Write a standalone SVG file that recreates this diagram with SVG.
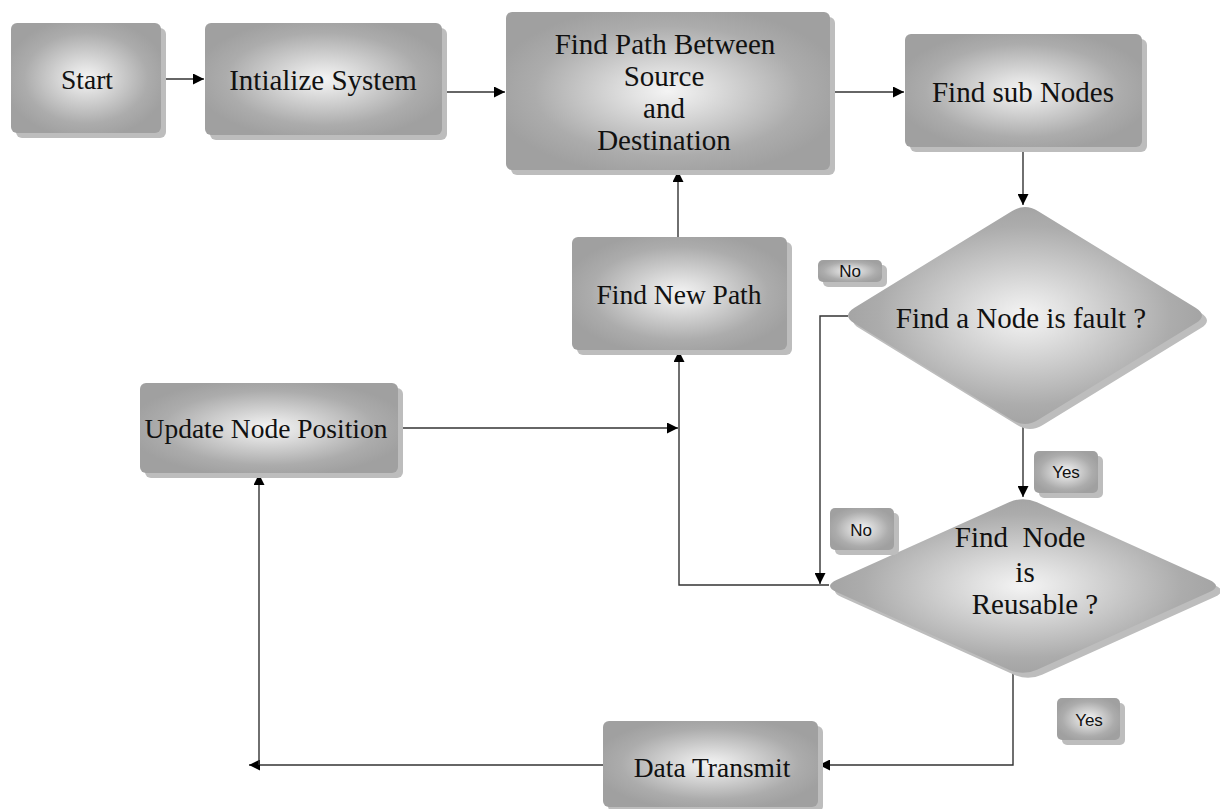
<svg xmlns="http://www.w3.org/2000/svg" width="1220" height="809" viewBox="0 0 1220 809">
<defs>
<radialGradient id="g" cx="0.5" cy="0.5" r="0.55">
<stop offset="0" stop-color="#f4f4f4"/>
<stop offset="0.2" stop-color="#e2e2e2"/>
<stop offset="0.75" stop-color="#acacac"/>
<stop offset="1" stop-color="#a0a0a0"/>
</radialGradient>
<marker id="ah" viewBox="0 0 10 10" refX="10" refY="5" markerWidth="12" markerHeight="11" markerUnits="userSpaceOnUse" orient="auto">
<path d="M0,0 L10,5 L0,10 z" fill="#000"/>
</marker>
</defs>
<style>
.sh{fill:#bdbdbd}
.bx{fill:url(#g)}
.t{font-family:"Liberation Serif","Times New Roman",serif;font-size:27.5px;fill:#111;text-anchor:middle;dominant-baseline:central}
.b{font-size:29px}
.lt{font-family:"Liberation Sans",Arial,sans-serif;font-size:17px;fill:#111;text-anchor:middle;dominant-baseline:central}
.c{fill:none;stroke:#333;stroke-width:1.4}
.a{marker-end:url(#ah)}
</style>

<g id="connectors">
<path class="c a" d="M163,79 L204,79"/>
<path class="c a" d="M443,92 L505,92"/>
<path class="c a" d="M832,92 L904,92"/>
<path class="c a" d="M1023,148 L1023,205"/>
<path class="c a" d="M1023,425 L1023,497"/>
<path class="c a" d="M848,316 L820,316 L820,584"/>
<path class="c a" d="M829,585 L679,585 L679,351"/>
<path class="c a" d="M400,428 L678,428"/>
<path class="c a" d="M678,237 L678,171"/>
<path class="c a" d="M1013,673 L1013,765 L819,765"/>
<path class="c a" d="M603,765 L249,765"/>
<path class="c a" d="M259,765 L259,474"/>
</g>

<g id="start">
<rect class="sh" x="16" y="28" width="150" height="110" rx="6"/>
<rect class="bx" x="11" y="23" width="150" height="110" rx="6"/>
<text class="t" x="87" y="79">Start</text>
</g>

<g id="init">
<rect class="sh" x="210" y="28" width="237" height="112" rx="6"/>
<rect class="bx" x="205" y="23" width="237" height="112" rx="6"/>
<text class="t b" x="323" y="80">Intialize System</text>
</g>

<g id="findpath">
<rect class="sh" x="511" y="17" width="324" height="158" rx="6"/>
<rect class="bx" x="506" y="12" width="324" height="158" rx="6"/>
<text class="t b" x="665" y="44">Find Path Between</text>
<text class="t b" x="664" y="76">Source</text>
<text class="t b" x="664" y="108">and</text>
<text class="t b" x="664" y="140">Destination</text>
</g>

<g id="subnodes">
<rect class="sh" x="910" y="39" width="237" height="113" rx="6"/>
<rect class="bx" x="905" y="34" width="237" height="113" rx="6"/>
<text class="t b" x="1023" y="92">Find sub Nodes</text>
</g>

<g id="newpath">
<rect class="sh" x="577" y="242" width="215" height="113" rx="6"/>
<rect class="bx" x="572" y="237" width="215" height="113" rx="6"/>
<text class="t" x="679" y="294">Find New Path</text>
</g>

<g id="update">
<rect class="sh" x="145" y="388" width="258" height="90" rx="6"/>
<rect class="bx" x="140" y="383" width="258" height="90" rx="6"/>
<text class="t" x="266" y="428">Update Node Position</text>
</g>

<g id="fault">
<path class="sh" transform="translate(5,5)" d="M1037.84,210.97 L1195.56,307.63 Q1208.4,315.5 1195.56,323.37 L1037.84,420.03 Q1025,427.9 1012.16,420.03 L854.44,323.37 Q841.6,315.5 854.44,307.63 L1012.16,210.97 Q1025,203.1 1037.84,210.97 Z"/>
<path class="bx" d="M1037.84,210.97 L1195.56,307.63 Q1208.4,315.5 1195.56,323.37 L1037.84,420.03 Q1025,427.9 1012.16,420.03 L854.44,323.37 Q841.6,315.5 854.44,307.63 L1012.16,210.97 Q1025,203.1 1037.84,210.97 Z"/>
<text class="t b" x="1021" y="318">Find a Node is fault ?</text>
</g>

<g id="reusable">
<path class="sh" transform="translate(5,5)" d="M1037,502.3 L1209,579.7 Q1223,586 1209,592.3 L1037,669.7 Q1023,676 1009,669.7 L837,592.3 Q823,586 837,579.7 L1009,502.3 Q1023,496 1037,502.3 Z"/>
<path class="bx" d="M1037,502.3 L1209,579.7 Q1223,586 1209,592.3 L1037,669.7 Q1023,676 1009,669.7 L837,592.3 Q823,586 837,579.7 L1009,502.3 Q1023,496 1037,502.3 Z"/>
<text class="t b" x="1020" y="537" xml:space="preserve">Find  Node</text>
<text class="t b" x="1025" y="572">is</text>
<text class="t b" x="1035" y="604">Reusable ?</text>
</g>

<g id="transmit">
<rect class="sh" x="608" y="726" width="215" height="86" rx="6"/>
<rect class="bx" x="603" y="721" width="215" height="86" rx="6"/>
<text class="t" x="712" y="767">Data Transmit</text>
</g>

<g id="no1">
<rect class="sh" x="823" y="265" width="64" height="22" rx="5"/>
<rect class="bx" x="818" y="260" width="64" height="22" rx="5"/>
<text class="lt" x="850" y="271">No</text>
</g>

<g id="yes1">
<rect class="sh" x="1039" y="456" width="64" height="42" rx="5"/>
<rect class="bx" x="1034" y="451" width="64" height="42" rx="5"/>
<text class="lt" x="1066" y="472">Yes</text>
</g>

<g id="no2">
<rect class="sh" x="835" y="513" width="64" height="42" rx="5"/>
<rect class="bx" x="830" y="508" width="64" height="42" rx="5"/>
<text class="lt" x="861" y="530">No</text>
</g>

<g id="yes2">
<rect class="sh" x="1062" y="703" width="63" height="42" rx="5"/>
<rect class="bx" x="1057" y="698" width="63" height="42" rx="5"/>
<text class="lt" x="1089" y="720">Yes</text>
</g>
</svg>
